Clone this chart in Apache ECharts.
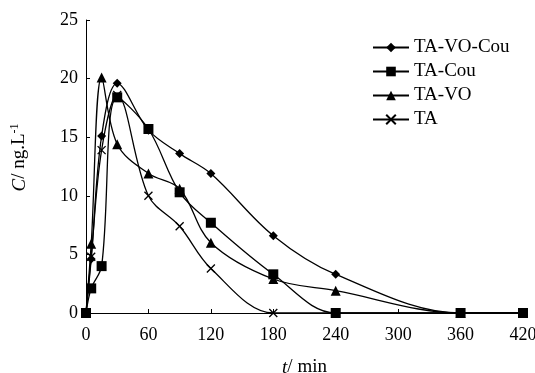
<!DOCTYPE html>
<html>
<head>
<meta charset="utf-8">
<script src="https://cdn.jsdelivr.net/npm/echarts@6/dist/echarts.min.js"></script>
<style>html,body{margin:0;padding:0;background:#fff}#c{width:535px;height:373px}</style>
</head>
<body>
<div id="c"></div>
<script>
const times = [0, 5, 15, 30, 60, 90, 120, 180, 240, 360, 420];
const taVoCou = [0, 4.6, 15.1, 19.6, 15.6, 13.6, 11.9, 6.6, 3.3, 0, 0];
const taCou = [0, 2.1, 4.0, 18.4, 15.7, 10.3, 7.7, 3.3, 0, 0, 0];
const taVo = [0, 5.9, 20.1, 14.4, 11.9, 10.6, 6.0, 2.9, 1.9, 0, 0];
const ta = [0, 4.8, 13.9, 18.6, 10.0, 7.4, 3.8, 0, 0, 0, 0];
const xTicks = [0, 60, 120, 180, 240, 300, 360, 420];
const yTicks = [0, 5, 10, 15, 20, 25];

const FONT = 'Liberation Serif';
function pairs(v) { return times.map((t, i) => [t, v[i]]); }
const crossPath = 'path://M0,0L10,10M10,0L0,10';

function mk(name, data, symbol, size, extra) {
  return Object.assign({
    name: name, type: 'line', data: pairs(data), smooth: 0.35,
    symbol: symbol, symbolSize: size,
    lineStyle: { color: '#000', width: 1.3 },
    itemStyle: { color: '#000' },
    z: 2
  }, extra || {});
}

const chart = echarts.init(document.getElementById('c'), null, { renderer: 'canvas' });
chart.setOption({
  animation: false,
  backgroundColor: '#fff',
  grid: { left: 86, right: 12, top: 20, bottom: 60, containLabel: false, outerBoundsMode: 'none' },
  legend: {
    orient: 'vertical', left: 367, top: 33,
    itemWidth: 36, itemHeight: 12, itemGap: 5,
    textStyle: { fontFamily: FONT, fontSize: 19, color: '#000' },
    data: ['TA-VO-Cou', 'TA-Cou', 'TA-VO', 'TA']
  },
  xAxis: {
    type: 'value', min: xTicks[0], max: xTicks[xTicks.length - 1], interval: 60,
    name: '{i|t}/ min', nameLocation: 'middle', nameGap: 45,
    nameTextStyle: { fontFamily: FONT, fontSize: 19, color: '#000',
      rich: { i: { fontFamily: FONT, fontSize: 19, fontStyle: 'italic', color: '#000' } } },
    axisLine: { lineStyle: { color: '#000', width: 1 } },
    axisTick: { inside: true, length: 4, lineStyle: { color: '#000' } },
    axisLabel: { fontFamily: FONT, fontSize: 18, color: '#000', margin: 13 },
    splitLine: { show: false }
  },
  yAxis: {
    type: 'value', min: yTicks[0], max: yTicks[yTicks.length - 1], interval: 5,
    name: '{i|C}/ ng.L{s|-1}', nameLocation: 'middle', nameGap: 56, nameRotate: 90,
    nameTextStyle: { fontFamily: FONT, fontSize: 19, color: '#000', padding: [0, 0, 0, 18],
      rich: { i: { fontFamily: FONT, fontSize: 19, fontStyle: 'italic', color: '#000' },
              s: { fontFamily: FONT, fontSize: 12, color: '#000', verticalAlign: 'top', padding: [0, 0, 9, 0] } } },
    axisLine: { show: true, lineStyle: { color: '#000', width: 1 } },
    axisTick: { show: true, inside: true, length: 4, lineStyle: { color: '#000' } },
    axisLabel: { fontFamily: FONT, fontSize: 18, color: '#000', margin: 8 },
    splitLine: { show: false }
  },
  series: [
    mk('TA-VO-Cou', taVoCou, 'diamond', 9),
    mk('TA-Cou', taCou, 'rect', 10),
    mk('TA-VO', taVo, 'triangle', 10),
    mk('TA', ta, crossPath, 8, { itemStyle: { color: 'none', borderColor: '#000', borderWidth: 1.3 } })
  ]
});
</script>
</body>
</html>
